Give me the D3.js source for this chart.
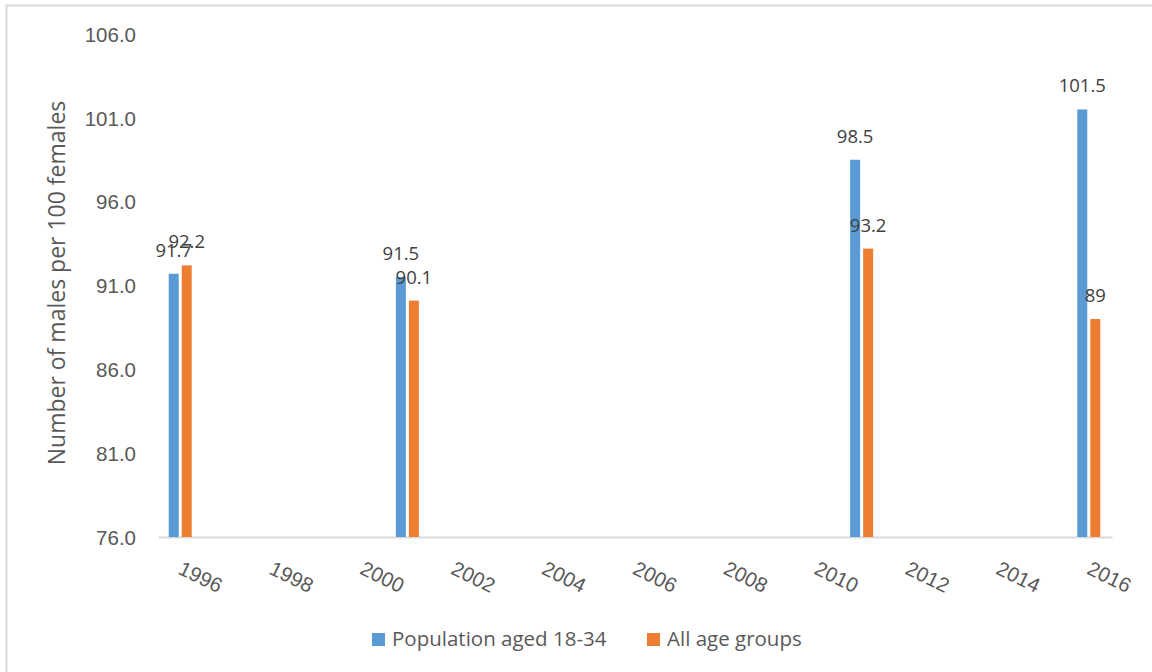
<!DOCTYPE html>
<html>
<head>
<meta charset="utf-8">
<script src="https://cdn.jsdelivr.net/npm/d3@7"></script>
<style>
  html, body { margin: 0; padding: 0; background: #fff; }
  svg { display: block; font-family: "Open Sans", "Noto Sans", sans-serif; }
</style>
</head>
<body>
<svg id="chart" width="1152" height="672"></svg>
<script>
// Sex ratio: males per 100 females, by survey year
const years = [1996, 2001, 2011, 2016];
const youngAdults = [91.7, 91.5, 98.5, 101.5];   // Population aged 18-34
const allAges = [92.2, 90.1, 93.2, 89];          // All age groups
const valueLabels18to34 = ["91.7", "91.5", "98.5", "101.5"];
const valueLabelsAll = ["92.2", "90.1", "93.2", "89"];
const seriesNames = ["Population aged 18-34", "All age groups"];
const axisYears = d3.range(1996, 2017);           // one slot per calendar year
const yTicks = [76, 81, 86, 91, 96, 101, 106];

const colors = ["#5b9bd5", "#ed7d31"];
const textColor = "#595959";

const svg = d3.select("#chart");

// chart frame
svg.append("rect")
  .attr("x", 6.5).attr("y", 5.5)
  .attr("width", 1160).attr("height", 680)
  .attr("fill", "none").attr("stroke", "#d9d9d9").attr("stroke-width", 2);

const x = d3.scaleBand().domain(axisYears).range([158, 1112]).padding(0);
const y = d3.scaleLinear().domain([76, 106]).range([537, 34]);
const inner = d3.scaleBand().domain([0, 1]).range([-12, 11]).paddingInner(3 / 13);

// y axis labels (no line, no gridlines)
const yAxis = d3.axisLeft(y).tickValues(yTicks).tickFormat(d3.format(".1f")).tickSize(0).tickPadding(0);
const gy = svg.append("g").attr("transform", "translate(136,0)").call(yAxis);
gy.select(".domain").remove();
gy.selectAll("text")
  .attr("fill", textColor)
  .style("font-size", "20.5px")
  .attr("dy", "0.35em");

// y axis title
svg.append("text")
  .attr("transform", "translate(65,283) rotate(-90)")
  .attr("text-anchor", "middle")
  .attr("fill", textColor)
  .style("font-size", "23px")
  .text("Number of males per 100 females");

// x axis: baseline plus rotated year labels every two years
const xAxis = d3.axisBottom(x)
  .tickValues(axisYears.filter(d => (d - 1996) % 2 === 0))
  .tickSize(0).tickPadding(0);
const gx = svg.append("g").attr("transform", "translate(0,537)").call(xAxis);
gx.select(".domain").attr("stroke", "#d9d9d9").attr("stroke-width", 2);
gx.selectAll(".tick text")
  .attr("fill", textColor)
  .style("font-size", "20.5px")
  .attr("text-anchor", "start")
  .attr("x", -4).attr("y", 0).attr("dy", 0)
  .attr("transform", "translate(0,38) rotate(26)");

// bars
const rows = years.map((yr, i) => ({
  year: yr,
  vals: [youngAdults[i], allAges[i]],
  labels: [valueLabels18to34[i], valueLabelsAll[i]]
}));

const groups = svg.append("g").selectAll("g")
  .data(rows).join("g")
  .attr("transform", d => `translate(${x(d.year) + x.bandwidth() / 2},0)`);

groups.selectAll("rect")
  .data(d => d.vals.map((v, s) => ({ v, s })))
  .join("rect")
  .attr("x", d => inner(d.s))
  .attr("width", inner.bandwidth())
  .attr("y", d => y(d.v))
  .attr("height", d => y(76) - y(d.v))
  .attr("fill", d => colors[d.s]);

groups.selectAll("text")
  .data(d => d.vals.map((v, s) => ({ v, s, label: d.labels[s] })))
  .join("text")
  .attr("x", d => inner(d.s) + inner.bandwidth() / 2)
  .attr("y", d => y(d.v) - 17)
  .attr("text-anchor", "middle")
  .attr("fill", "#404040")
  .style("font-size", "18.5px")
  .text(d => d.label);

// legend
const legendX = [372, 647];
const legend = svg.append("g").selectAll("g")
  .data(seriesNames).join("g")
  .attr("transform", (d, i) => `translate(${legendX[i]},633)`);
legend.append("rect")
  .attr("width", 13).attr("height", 13)
  .attr("fill", (d, i) => colors[i]);
legend.append("text")
  .attr("x", 20).attr("y", 13)
  .attr("fill", textColor)
  .style("font-size", "20.5px")
  .text(d => d);
</script>
</body>
</html>
